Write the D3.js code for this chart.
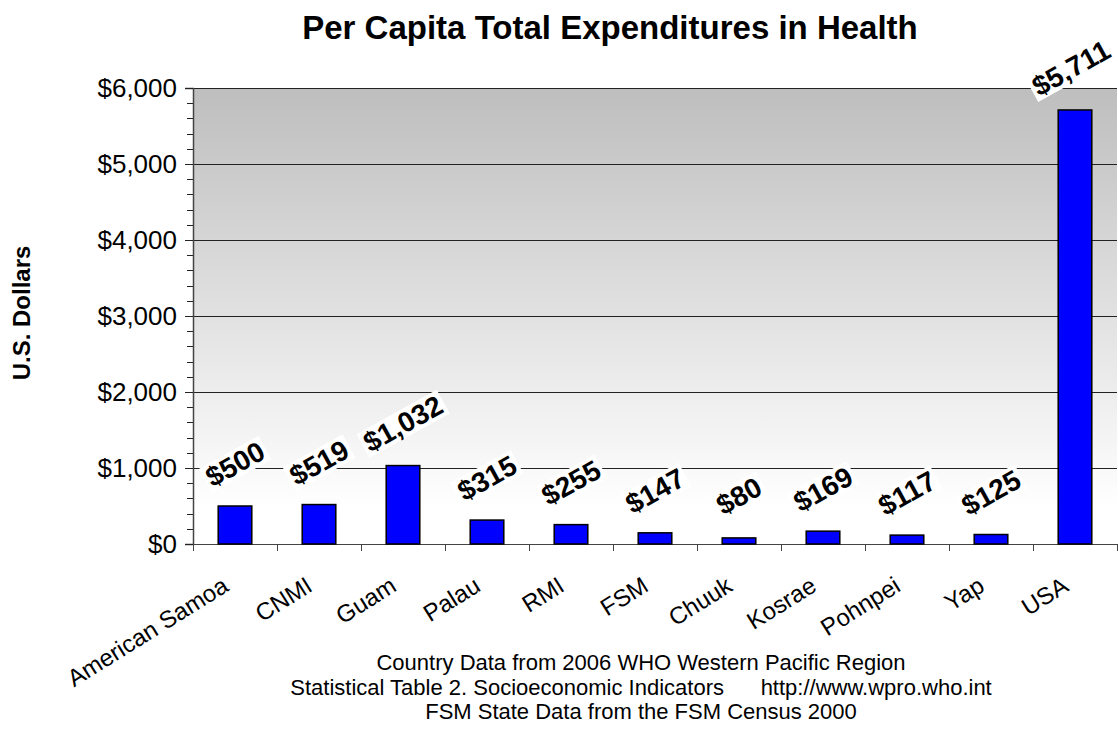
<!DOCTYPE html>
<html>
<head>
<meta charset="utf-8">
<script src="https://cdn.jsdelivr.net/npm/d3@7"></script>
<style>
  body { margin: 0; background: #fff; }
  text { font-family: Arial, "Liberation Sans", sans-serif; }
</style>
</head>
<body>
<div id="chart"></div>
<script>
// data
var categories = ["American Samoa", "CNMI", "Guam", "Palau", "RMI", "FSM", "Chuuk", "Kosrae", "Pohnpei", "Yap", "USA"];
var values = [500, 519, 1032, 315, 255, 147, 80, 169, 117, 125, 5711];
var yTicks = [0, 1000, 2000, 3000, 4000, 5000, 6000];
var footLines = [
    "Country Data from 2006 WHO Western Pacific Region",
    "Statistical Table 2. Socioeconomic Indicators      http://www.wpro.who.int",
    "FSM State Data from the FSM Census 2000"
];

var W = 1118, H = 738;
var margin = {top: 88, right: 1, bottom: 194, left: 193},
    width = W - margin.left - margin.right,
    height = H - margin.top - margin.bottom;

var svg = d3.select("#chart").append("svg")
    .attr("width", W).attr("height", H);

var defs = svg.append("defs");
var grad = defs.append("linearGradient")
    .attr("id", "bg").attr("x1", 0).attr("y1", 0).attr("x2", 0).attr("y2", 1);
grad.append("stop").attr("offset", "0%").attr("stop-color", "#bebebe");
grad.append("stop").attr("offset", "92%").attr("stop-color", "#ffffff");
grad.append("stop").attr("offset", "100%").attr("stop-color", "#ffffff");

var g = svg.append("g")
    .attr("transform", "translate(" + margin.left + "," + margin.top + ")");

var x = d3.scaleBand().domain(categories).range([0, width]).paddingInner(0.6).paddingOuter(0.3);
var xb = d3.scaleBand().domain(categories).range([0, width]);
var y = d3.scaleLinear().domain([0, 6000]).range([height, 0]);

// plot background
g.append("rect")
    .attr("width", width).attr("height", height)
    .attr("fill", "url(#bg)");

// gridlines
g.selectAll(".grid").data(yTicks.filter(function(d){ return d > 0; }))
  .enter().append("line")
    .attr("x1", 0).attr("x2", width)
    .attr("y1", function(d){ return Math.round(y(d)) + 0.5; })
    .attr("y2", function(d){ return Math.round(y(d)) + 0.5; })
    .attr("stroke", "#222").attr("stroke-width", 1);

// y axis (minor ticks every 200)
var minor = d3.range(0, 6001, 200).filter(function(d){ return d % 1000 != 0; });
g.selectAll(".minor").data(minor).enter().append("line")
    .attr("x1", -6).attr("x2", 0)
    .attr("y1", function(d){ return Math.round(y(d)) + 0.5; })
    .attr("y2", function(d){ return Math.round(y(d)) + 0.5; })
    .attr("stroke", "#222");

var yAxis = g.append("g")
    .call(d3.axisLeft(y).tickValues(yTicks).tickSize(8).tickPadding(8)
        .tickFormat(function(d){ return "$" + d3.format(",")(d); }));
yAxis.select(".domain").attr("stroke", "#444").attr("stroke-width", 1.5);
yAxis.selectAll(".tick line").attr("stroke", "#222");
yAxis.selectAll("text").attr("font-size", 26).attr("fill", "#000")
    .style("font-family", "Arial, 'Liberation Sans', sans-serif");

// x axis line and ticks on band edges
g.append("line").attr("x1", 0).attr("x2", width)
    .attr("y1", height + 0.5).attr("y2", height + 0.5)
    .attr("stroke", "#444").attr("stroke-width", 1.2);
var edges = categories.map(function(c){ return xb(c); }).concat([width]);
g.selectAll(".xtick").data(edges).enter().append("line")
    .attr("x1", function(d){ return Math.round(d) + 0.5; })
    .attr("x2", function(d){ return Math.round(d) + 0.5; })
    .attr("y1", height).attr("y2", height + 7)
    .attr("stroke", "#444");

// bars
g.selectAll(".bar").data(values).enter().append("rect")
    .attr("x", function(d, i){ return x(categories[i]); })
    .attr("width", x.bandwidth())
    .attr("y", function(d){ return y(d); })
    .attr("height", function(d){ return height - y(d); })
    .attr("fill", "#0000ff")
    .attr("stroke", "#000").attr("stroke-width", 1.5);

// value labels, rotated with white box
var labels = g.selectAll(".vlab").data(values).enter().append("g")
    .attr("transform", function(d, i){
        var cx = xb(categories[i]) + xb.bandwidth() / 2;
        if (i == values.length - 1) cx -= 4; // keep last label inside the frame
        return "translate(" + cx + "," + (y(d) - 42) + ") rotate(-29)";
    });
labels.append("text")
    .attr("text-anchor", "middle").attr("dy", "0.35em")
    .attr("font-size", 28).attr("font-weight", "bold")
    .text(function(d){ return "$" + d3.format(",")(d); });
labels.each(function(){
    var t = d3.select(this).select("text");
    var bb = t.node().getBBox();
    d3.select(this).insert("rect", "text")
        .attr("x", bb.x - 3).attr("y", bb.y + 2)
        .attr("width", bb.width + 6).attr("height", bb.height - 4)
        .attr("fill", "#fff");
});

// category labels
g.selectAll(".clab").data(categories).enter().append("text")
    .attr("text-anchor", "end")
    .attr("font-size", 24)
    .attr("transform", function(c){
        var cx = xb(c) + xb.bandwidth() / 2 - 5;
        return "translate(" + cx + "," + (height + 46) + ") rotate(-32)";
    })
    .text(function(c){ return c; });

// title
svg.append("text")
    .attr("x", 610).attr("y", 39)
    .attr("text-anchor", "middle")
    .attr("font-size", 33).attr("font-weight", "bold")
    .text("Per Capita Total Expenditures in Health");

// y title
svg.append("text")
    .attr("transform", "translate(30,313) rotate(-90)")
    .attr("text-anchor", "middle")
    .attr("font-size", 24).attr("font-weight", "bold")
    .text("U.S. Dollars");

// source notes
svg.selectAll(".foot").data(footLines).enter().append("text")
    .attr("x", 641)
    .attr("y", function(d, i){ return 670 + i * 24.5; })
    .attr("text-anchor", "middle")
    .attr("font-size", 22)
    .style("white-space", "pre")
    .attr("xml:space", "preserve")
    .text(function(d){ return d; });
</script>
</body>
</html>
